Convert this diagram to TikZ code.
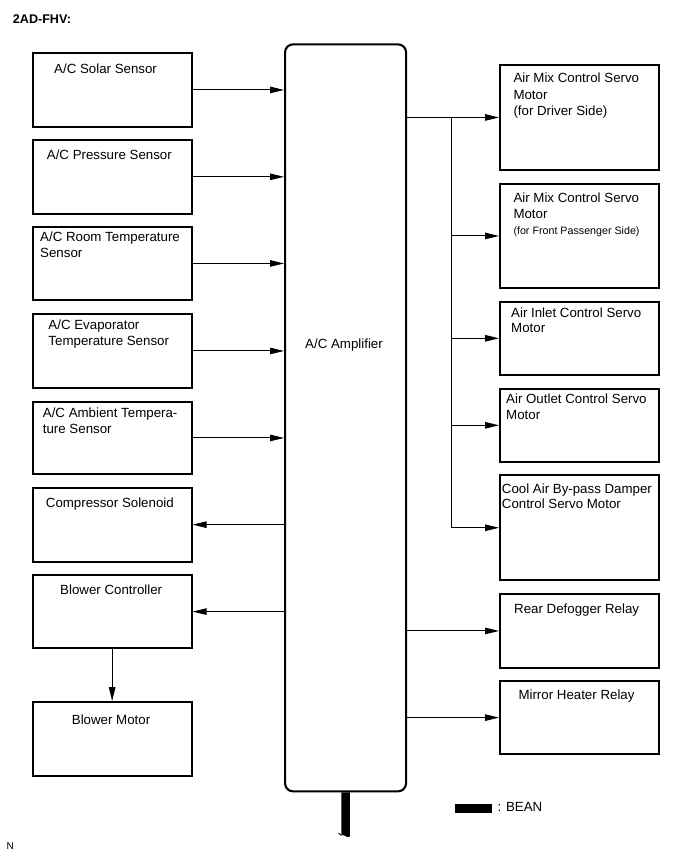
\documentclass[tikz,border=0pt]{standalone}
\usepackage{fontspec}
\setmainfont{Liberation Sans}
\usetikzlibrary{arrows.meta}
\begin{document}
\begin{tikzpicture}[x=1pt,y=-1pt,
  box/.style={draw,line width=1.9pt,inner sep=0pt,anchor=north west},
  amp/.style={draw,line width=2.1pt,rounded corners=8pt,inner sep=0pt,anchor=north west},
  lbl/.style={anchor=base west,inner sep=0pt,font=\fontsize{13.3}{16}\selectfont},
  small/.style={anchor=base west,inner sep=0pt,font=\fontsize{10.7}{13}\selectfont},
  conn/.style={line width=1pt,-{Triangle[length=14pt,width=6.5pt]}},
  wire/.style={line width=1pt}]
\useasboundingbox (0,0) rectangle (690,855);
\fill[white] (0,0) rectangle (690,855);

\node[anchor=base west,inner sep=0pt,font=\fontsize{12.6}{15}\selectfont\bfseries] (title) at (12.7,23) {2AD-FHV:};

% amplifier
\node[amp,minimum width=121pt,minimum height=747pt] (amp) at (284,43.3) {};
\node[lbl] (tamp) at (305,348.3) {A/C Amplifier};

% left boxes
\node[box,minimum width=159pt,minimum height=73.4pt] (solar) at (31.7,52.3) {};
\node[box,minimum width=159pt,minimum height=73.7pt] (press) at (31.7,139) {};
\node[box,minimum width=159pt,minimum height=73.6pt] (room) at (31.7,225.7) {};
\node[box,minimum width=159pt,minimum height=73.4pt] (evap) at (31.7,313.3) {};
\node[box,minimum width=159pt,minimum height=72.6pt] (amb) at (31.7,400.7) {};
\node[box,minimum width=159pt,minimum height=74pt] (comp) at (31.7,486.7) {};
\node[box,minimum width=159pt,minimum height=73.3pt] (bctl) at (31.7,574) {};
\node[box,minimum width=159pt,minimum height=74pt] (bmot) at (31.7,701) {};

\node[lbl] (tsolar) at (54,73.3) {A/C Solar Sensor};
\node[lbl] (tpress) at (46.7,159) {A/C Pressure Sensor};
\node[lbl] (troom1) at (40,241.7) {A/C Room Temperature};
\node[lbl] (troom2) at (40,257.7) {Sensor};
\node[lbl] (tevap1) at (48.3,329.3) {A/C Evaporator};
\node[lbl] (tevap2) at (48.3,345.7) {Temperature Sensor};
\node[lbl] (tamb1) at (42.7,417.3) {A/C Ambient Tempera-};
\node[lbl] (tamb2) at (42.7,433.3) {ture Sensor};
\node[lbl] (tcomp) at (45.7,507.3) {Compressor Solenoid};
\node[lbl] (tbctl) at (60,594.3) {Blower Controller};
\node[lbl] (tbmot) at (71.7,724.3) {Blower Motor};

% right boxes
\node[box,minimum width=159.3pt,minimum height=105pt] (am1) at (499,64) {};
\node[box,minimum width=159.3pt,minimum height=104.6pt] (am2) at (499,182.7) {};
\node[box,minimum width=159.3pt,minimum height=73.3pt] (inlet) at (499,300.7) {};
\node[box,minimum width=159.3pt,minimum height=73.3pt] (outlet) at (499,387.7) {};
\node[box,minimum width=159.3pt,minimum height=105pt] (cool) at (499,474.3) {};
\node[box,minimum width=159.3pt,minimum height=73.4pt] (rear) at (499,593.3) {};
\node[box,minimum width=159.3pt,minimum height=73.3pt] (mirror) at (499,680) {};

\node[lbl] (tam1a) at (513.3,82.5) {Air Mix Control Servo};
\node[lbl] (tam1b) at (513.3,99) {Motor};
\node[lbl] (tam1c) at (513.3,115.5) {(for Driver Side)};
\node[lbl] (tam2a) at (513.3,202.3) {Air Mix Control Servo};
\node[lbl] (tam2b) at (513.3,218.3) {Motor};
\node[small] (tam2c) at (513.3,234.3) {(for Front Passenger Side)};
\node[lbl] (tin1) at (511,317.3) {Air Inlet Control Servo};
\node[lbl] (tin2) at (511,332.7) {Motor};
\node[lbl] (tout1) at (506,403.3) {Air Outlet Control Servo};
\node[lbl] (tout2) at (506,419.3) {Motor};
\node[lbl] (tcool1) at (501.7,493.3) {Cool Air By-pass Damper};
\node[lbl] (tcool2) at (501.7,508.3) {Control Servo Motor};
\node[lbl] (trear) at (514,613.3) {Rear Defogger Relay};
\node[lbl] (tmirror) at (518.3,699) {Mirror Heater Relay};

% inputs
\foreach \b in {solar,press,room,evap,amb}
  \draw[conn] (\b.east) -- (\b.east -| amp.west);
% outputs left
\draw[conn] (comp.east -| amp.west) -- (comp.east);
\draw[conn] (bctl.east -| amp.west) -- (bctl.east);
\draw[conn] (bctl.south) -- (bmot.north);

% outputs right
\coordinate (br) at (451.7,0 |- am1.west);
\coordinate (brend) at (br |- cool.west);
\draw[conn] (am1.west -| amp.east) -- (am1.west);
\draw[wire] (br) -- (brend);
\foreach \b in {am2,inlet,outlet,cool}
  \draw[conn] (br |- \b.west) -- (\b.west);
\draw[conn] (rear.west -| amp.east) -- (rear.west);
\draw[conn] (mirror.west -| amp.east) -- (mirror.west);

% BEAN bus
\coordinate (bus) at (amp.south);
\fill ([xshift=-4.3pt]amp.south) -- ([xshift=4.3pt]amp.south)
  -- ([xshift=4.3pt,yshift=-44pt]amp.south)
  .. controls ([xshift=2pt,yshift=-47pt]amp.south) and ([xshift=-1pt,yshift=-41pt]amp.south) .. ([xshift=-4.3pt,yshift=-43pt]amp.south) -- cycle;
\draw[line width=0.8pt] ([xshift=-7pt,yshift=-40.5pt]amp.south) .. controls ([xshift=-6pt,yshift=-42.5pt]amp.south) .. ([xshift=-4.3pt,yshift=-43pt]amp.south);

% legend
\node[fill=black,inner sep=0pt,minimum width=37.4pt,minimum height=9pt,anchor=north west] (leg) at (454.3,803.3) {};
\node[anchor=base west,inner sep=0pt,font=\fontsize{13.3}{16}\selectfont] (tleg) at (497.3,811.7) {: BEAN};

\node[anchor=base west,inner sep=0pt,font=\fontsize{10}{12}\selectfont] (tn) at (6.5,849.5) {N};
\end{tikzpicture}
\end{document}
